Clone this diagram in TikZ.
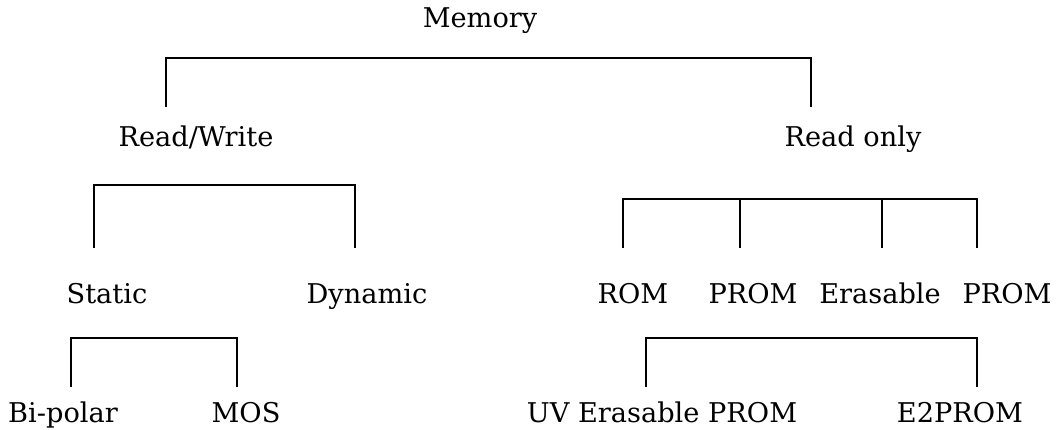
\documentclass[tikz,border=0pt]{standalone}
\usepackage{fontspec}
\setmainfont{DejaVu Serif}
\begin{document}
\begin{tikzpicture}[x=1pt,y=1pt,
  lbl/.style={anchor=base,inner sep=0pt,font=\fontsize{27.2}{30}\selectfont},
  conn/.style={line width=2.2pt,line cap=butt,line join=miter}]
\useasboundingbox (0,0) rectangle (1061,430);
% labels (baseline positions, y measured from bottom)
\node[lbl] (mem) at (480,402) {Memory};
\node[lbl] (rw) at (196,283) {Read/Write};
\node[lbl] (ro) at (853,283) {Read only};
\node[lbl] (st) at (107,126) {Static};
\node[lbl] (dy) at (367,126) {Dynamic};
\node[lbl] (rom) at (633,126) {ROM};
\node[lbl] (prom) at (753,126) {PROM};
\node[lbl] (er) at (880,126) {Erasable};
\node[lbl] (prom2) at (1007,126) {PROM};
\node[lbl] (bp) at (63,7) {Bi-polar};
\node[lbl] (mos) at (246,7) {MOS};
\node[lbl] (uv) at (662,7) {UV Erasable PROM};
\node[lbl] (e2) at (960,7) {E2PROM};
% connector end points
\coordinate (a1) at (166,323);  \coordinate (a2) at (811,323);  \def\ya{372}
\coordinate (b1) at (94,182);   \coordinate (b2) at (355,182);  \def\yb{245}
\coordinate (c1) at (623,182);  \coordinate (c2) at (740,182);
\coordinate (c3) at (882,182);  \coordinate (c4) at (977,182);  \def\yc{231}
\coordinate (d1) at (71,43);    \coordinate (d2) at (237,43);   \def\yd{92}
\coordinate (e1) at (646,43);   \coordinate (e2c) at (977,43);  \def\ye{92}
% brackets
\draw[conn] (a1) -- ([yshift=\ya-323]a1) -- ([yshift=\ya-323]a2) -- (a2);
\draw[conn] (b1) -- ([yshift=\yb-182]b1) -- ([yshift=\yb-182]b2) -- (b2);
\draw[conn] (c1) -- ([yshift=\yc-182]c1) -- ([yshift=\yc-182]c4) -- (c4);
\draw[conn] (c2) -- ([yshift=\yc-182]c2);
\draw[conn] (c3) -- ([yshift=\yc-182]c3);
\draw[conn] (d1) -- ([yshift=\yd-43]d1) -- ([yshift=\yd-43]d2) -- (d2);
\draw[conn] (e1) -- ([yshift=\ye-43]e1) -- ([yshift=\ye-43]e2c) -- (e2c);
\end{tikzpicture}
\end{document}
